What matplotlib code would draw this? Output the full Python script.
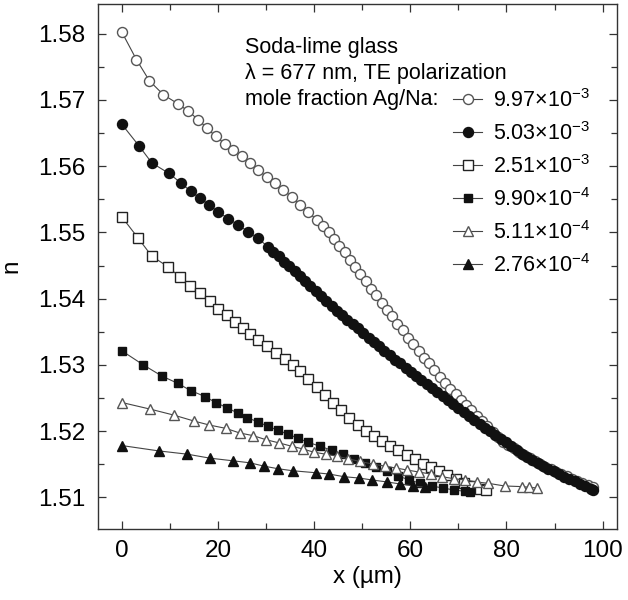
import matplotlib
matplotlib.use('Agg')
import matplotlib.pyplot as plt
from matplotlib.ticker import MultipleLocator, FormatStrFormatter

plt.rcParams['font.family'] = ['Liberation Sans', 'DejaVu Sans']
plt.rcParams['mathtext.fontset'] = 'custom'
plt.rcParams['mathtext.rm'] = 'Liberation Sans'
plt.rcParams['mathtext.it'] = 'Liberation Sans:italic'

# mole fraction Ag/Na = 9.97e-3 (open circles)
x1 = [0, 3.0, 5.7, 8.6, 11.7, 13.8, 15.9, 17.6, 19.5, 21.4, 23.1, 24.9, 26.6, 28.3,
      30.1, 31.8, 33.5, 35.3, 37.0, 38.7, 40.5, 41.8, 43.0, 44.1, 45.2, 46.3, 47.4,
      48.5, 49.6, 50.7, 51.8, 52.9, 54.0, 55.1, 56.2, 57.3, 58.4, 59.5, 60.6, 61.7,
      62.8, 63.9, 65.0, 66.1, 67.2, 68.3, 69.4, 70.5, 71.6, 72.7, 73.8, 74.9, 76.0,
      77.1, 78.2, 79.3, 80.4, 81.5, 82.6, 83.7, 84.8, 85.9, 87.0, 88.1, 89.2, 90.3,
      91.4, 92.5, 93.6, 94.7, 95.8, 96.9, 98.0]
n1 = [1.5802, 1.5761, 1.5729, 1.5708, 1.5694, 1.5683, 1.5670, 1.5658, 1.5645, 1.5634,
      1.5625, 1.5615, 1.5605, 1.5594, 1.5584, 1.5574, 1.5564, 1.5554, 1.5541, 1.5531,
      1.5519, 1.5509, 1.5500, 1.5490, 1.5480, 1.5470, 1.5459, 1.5448, 1.5437, 1.5426,
      1.5415, 1.5405, 1.5394, 1.5383, 1.5373, 1.5362, 1.5352, 1.5341, 1.5331, 1.5321,
      1.5311, 1.5302, 1.5292, 1.5282, 1.5273, 1.5264, 1.5256, 1.5247, 1.5239, 1.5231,
      1.5223, 1.5215, 1.5207, 1.5199, 1.5191, 1.5184, 1.5179, 1.5175, 1.5169, 1.5164,
      1.5159, 1.5154, 1.5150, 1.5146, 1.5142, 1.5138, 1.5135, 1.5132, 1.5128, 1.5125,
      1.5121, 1.5118, 1.5115]

# 5.03e-3 (filled circles)
x2 = [0, 3.5, 6.2, 9.8, 12.2, 14.3, 16.2, 18.2, 20.0, 22.1, 24.2, 26.3, 28.3, 30.4,
      31.5, 32.6, 33.7, 34.8, 35.9, 37.0, 38.1, 39.2, 40.3, 41.4, 42.5, 43.6, 44.7,
      45.8, 46.9, 48.0, 49.1, 50.2, 51.3, 52.4, 53.5, 54.6, 55.7, 56.8, 57.9, 59.0,
      60.1, 61.2, 62.3, 63.4, 64.5, 65.6, 66.7, 67.8, 68.9, 70.0, 71.1, 72.2, 73.3,
      74.4, 75.5, 76.6, 77.7, 78.8, 79.9, 81.0, 82.1, 83.2, 84.3, 85.4, 86.5, 87.6,
      88.7, 89.8, 90.9, 92.0, 93.1, 94.2, 95.3, 96.4, 97.5, 98.0]
n2 = [1.5663, 1.5631, 1.5605, 1.5589, 1.5575, 1.5562, 1.5552, 1.5541, 1.5531, 1.5521,
      1.5511, 1.5501, 1.5491, 1.5478, 1.5471, 1.5464, 1.5456, 1.5449, 1.5442, 1.5434,
      1.5427, 1.5419, 1.5412, 1.5404, 1.5397, 1.5389, 1.5382, 1.5375, 1.5368, 1.5361,
      1.5355, 1.5348, 1.5341, 1.5334, 1.5328, 1.5321, 1.5315, 1.5308, 1.5302, 1.5295,
      1.5289, 1.5283, 1.5277, 1.5271, 1.5265, 1.5259, 1.5253, 1.5247, 1.5241, 1.5235,
      1.5229, 1.5223, 1.5217, 1.5211, 1.5205, 1.5200, 1.5194, 1.5188, 1.5183, 1.5177,
      1.5172, 1.5166, 1.5161, 1.5156, 1.5151, 1.5147, 1.5143, 1.5139, 1.5135, 1.5131,
      1.5128, 1.5124, 1.5120, 1.5117, 1.5113, 1.5111]

# 2.51e-3 (open squares)
x3 = [0, 3.4, 6.2, 9.6, 12.1, 14.1, 16.2, 18.3, 20.0, 21.8, 23.5, 25.1, 26.6, 28.3,
      30.1, 32.0, 33.9, 35.5, 37.1, 38.8, 40.5, 42.2, 43.9, 45.6, 47.3, 49.0, 50.7,
      52.4, 54.1, 55.8, 57.5, 59.2, 60.9, 62.6, 64.3, 66.0, 67.7, 69.4, 71.1, 72.8,
      74.5, 75.8]
n3 = [1.5523, 1.5491, 1.5464, 1.5448, 1.5432, 1.5419, 1.5408, 1.5397, 1.5385, 1.5375,
      1.5365, 1.5356, 1.5347, 1.5338, 1.5328, 1.5318, 1.5309, 1.5300, 1.5290, 1.5279,
      1.5267, 1.5255, 1.5243, 1.5231, 1.5220, 1.5209, 1.5200, 1.5192, 1.5185, 1.5178,
      1.5171, 1.5164, 1.5157, 1.5150, 1.5145, 1.5139, 1.5133, 1.5127, 1.5122, 1.5117,
      1.5113, 1.5111]

# 9.90e-4 (filled squares)
x4 = [0, 4.4, 8.3, 11.6, 14.3, 17.3, 19.5, 21.9, 24.1, 26.1, 28.2, 30.4, 32.5, 34.6,
      36.7, 38.7, 41.2, 43.6, 46.0, 48.3, 50.6, 52.9, 55.2, 57.5, 59.8, 62.1, 64.4,
      66.7, 69.0, 71.3, 72.5]
n4 = [1.5321, 1.5300, 1.5283, 1.5272, 1.5261, 1.5252, 1.5243, 1.5235, 1.5227, 1.5220,
      1.5214, 1.5207, 1.5201, 1.5195, 1.5189, 1.5183, 1.5177, 1.5171, 1.5165, 1.5158,
      1.5151, 1.5145, 1.5139, 1.5132, 1.5126, 1.5121, 1.5117, 1.5114, 1.5111, 1.5109,
      1.5108]

# 5.11e-4 (open triangles)
x5 = [0, 5.9, 10.8, 15.0, 18.2, 21.6, 24.5, 27.3, 29.9, 32.7, 35.3, 37.6, 39.9, 42.4,
      44.7, 47.1, 49.5, 52.2, 54.7, 57.1, 59.4, 61.8, 64.2, 66.6, 69.0, 71.4, 73.8,
      76.2, 79.6, 83.3, 84.7, 86.3]
n5 = [1.5243, 1.5233, 1.5224, 1.5215, 1.5209, 1.5204, 1.5197, 1.5193, 1.5187, 1.5182,
      1.5177, 1.5173, 1.5168, 1.5165, 1.5162, 1.5158, 1.5154, 1.5150, 1.5147, 1.5144,
      1.5141, 1.5138, 1.5135, 1.5131, 1.5128, 1.5126, 1.5123, 1.5121, 1.5117, 1.5116,
      1.5115, 1.5114]

# 2.76e-4 (filled triangles)
x6 = [0, 7.6, 13.6, 18.3, 23.1, 26.6, 29.5, 32.5, 35.5, 40.3, 43.1, 46.2, 49.3, 52.1,
      55.2, 57.9, 60.6, 63.0]
n6 = [1.5178, 1.5170, 1.5165, 1.5159, 1.5155, 1.5152, 1.5147, 1.5143, 1.5140, 1.5137,
      1.5135, 1.5131, 1.5129, 1.5126, 1.5123, 1.5120, 1.5117, 1.5115]

labels = [r'9.97$\times$10$^{-3}$', r'5.03$\times$10$^{-3}$', r'2.51$\times$10$^{-3}$',
          r'9.90$\times$10$^{-4}$', r'5.11$\times$10$^{-4}$', r'2.76$\times$10$^{-4}$']

fig = plt.figure(figsize=(6.28, 6.00), dpi=100)
ax = fig.add_axes([98 / 628, 71 / 600, 519 / 628, 525 / 600])

line_c = '#444444'
series = [
    (x1, n1, 'o', 'white', '#555555', 7.2),
    (x2, n2, 'o', '#111111', '#111111', 7.2),
    (x3, n3, 's', 'white', '#222222', 6.6),
    (x4, n4, 's', '#111111', '#111111', 6.4),
    (x5, n5, '^', 'white', '#555555', 7.6),
    (x6, n6, '^', '#111111', '#111111', 7.6),
]
for (xs, ns, mk, fc, ec, ms), lab in zip(series, labels):
    ax.plot(xs, ns, linestyle='-', color=line_c, lw=0.8, marker=mk, markersize=ms,
            markerfacecolor=fc, markeredgecolor=ec, markeredgewidth=1.0, label=lab)

ax.set_xlim(-5, 103)
ax.set_ylim(1.5052, 1.5845)
ax.xaxis.set_major_locator(MultipleLocator(20))
ax.xaxis.set_minor_locator(MultipleLocator(10))
ax.yaxis.set_major_locator(MultipleLocator(0.01))
ax.yaxis.set_minor_locator(MultipleLocator(0.005))
ax.yaxis.set_major_formatter(FormatStrFormatter('%.2f'))
ax.tick_params(which='both', direction='in', top=True, right=True, width=0.9, color='#333333')
ax.tick_params(which='major', length=6, labelsize=17.5)
ax.tick_params(axis='y', which='major', pad=9)
ax.tick_params(axis='x', which='major', pad=8)
ax.tick_params(which='minor', length=4)
for sp in ax.spines.values():
    sp.set_linewidth(1.0)
    sp.set_color('#333333')

ax.set_xlabel('x (µm)', fontsize=17.5)
ax.set_ylabel('n', fontsize=17.5)
ax.xaxis.set_label_coords(0.520, -0.070)
ax.yaxis.set_label_coords(-0.146, 0.5)

# header lines, positions in pixels from the top-left corner
fs = 15.5
ax.text(245, 600 - 48, 'Soda-lime glass', fontsize=fs, transform=None, va='center', ha='left')
ax.text(245, 600 - 74, 'λ = 677 nm, TE polarization', fontsize=fs, transform=None,
        va='center', ha='left')
ax.text(245, 600 - 100, 'mole fraction Ag/Na:', fontsize=fs, transform=None,
        va='center', ha='left')

leg = ax.legend(loc='upper left', bbox_to_anchor=(453 / 628, 1 - 89 / 600),
                bbox_transform=fig.transFigure, frameon=False, fontsize=fs,
                handlelength=1.35, handletextpad=0.5, labelspacing=0.47,
                borderpad=0, borderaxespad=0)

fig.savefig('out.png', dpi=100)
